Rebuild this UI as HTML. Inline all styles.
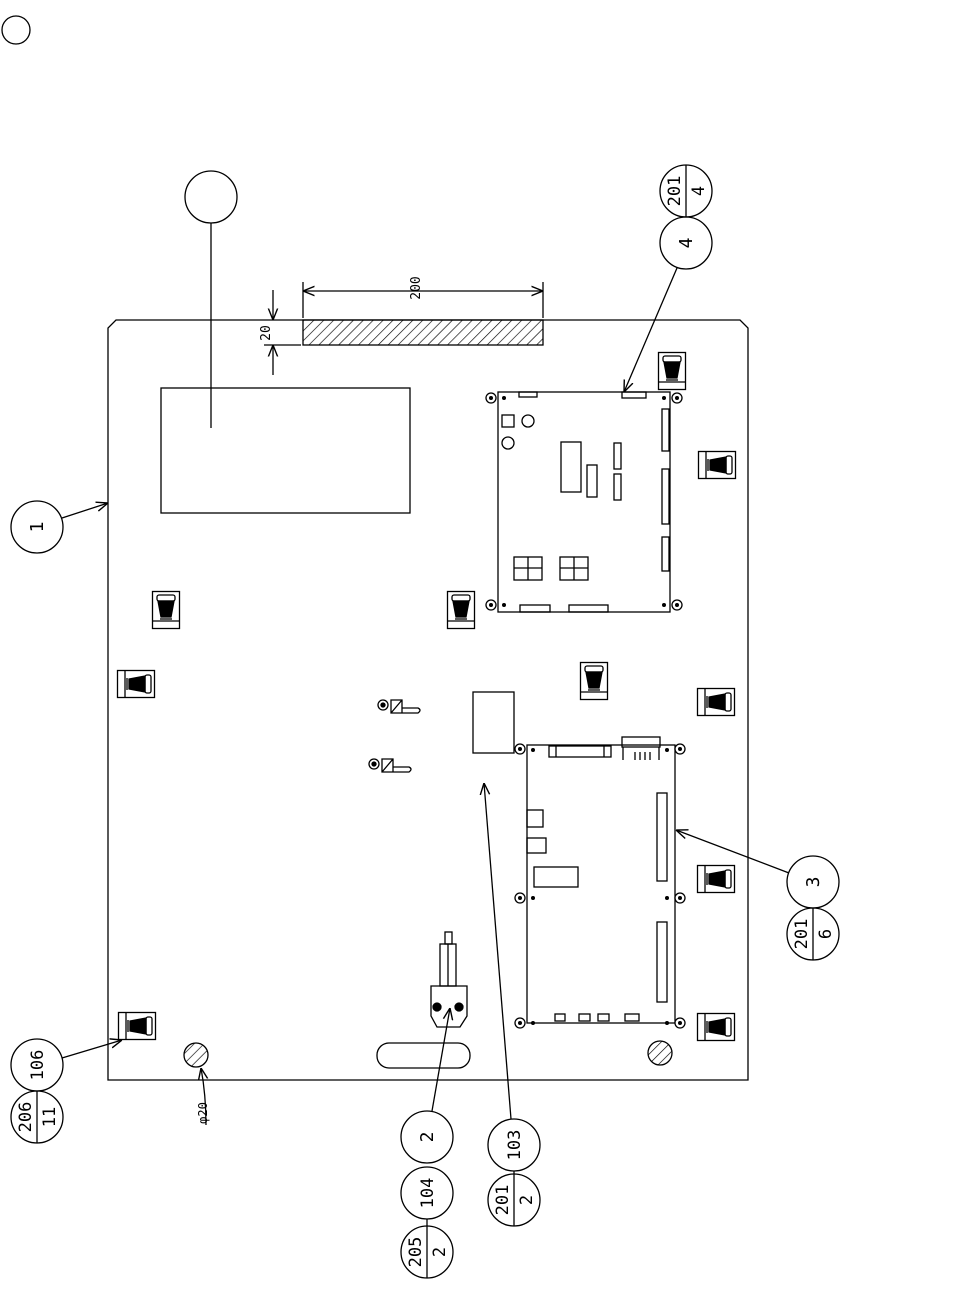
<!DOCTYPE html>
<html><head><meta charset="utf-8"><style>html,body{margin:0;padding:0;background:#fff}svg{display:block}text{font-family:"DejaVu Sans Mono","Liberation Mono",monospace;fill:#000}</style></head>
<body>
<svg width="967" height="1306" viewBox="0 0 967 1306" xmlns="http://www.w3.org/2000/svg" fill="none" stroke="#000" stroke-width="1.3">
<defs>
<pattern id="h" patternUnits="userSpaceOnUse" width="7" height="7" patternTransform="rotate(45)"><line x1="0" y1="0" x2="0" y2="7" stroke="#000" stroke-width="1.3"/></pattern>
<symbol id="cv" viewBox="0 0 28 38" overflow="visible"><rect x="0.5" y="0.5" width="27" height="37" fill="#fff"/><line x1="0.5" y1="30" x2="27.5" y2="30"/><rect x="5" y="4" width="18" height="6" rx="2"/><path d="M6 10 L22 10 L19 26 L9 26 Z" fill="#000"/><line x1="8" y1="28" x2="20" y2="28"/></symbol>
<symbol id="ch" viewBox="0 0 38 28" overflow="visible"><rect x="0.5" y="0.5" width="37" height="27" fill="#fff"/><line x1="8" y1="0.5" x2="8" y2="27.5"/><rect x="28" y="5" width="6" height="18" rx="2"/><path d="M28 6 L28 22 L12 19 L12 9 Z" fill="#000"/><line x1="10" y1="8" x2="10" y2="20"/></symbol>
<marker id="a" viewBox="0 0 10 10" refX="10" refY="5" markerWidth="9" markerHeight="9" orient="auto-start-reverse"><path d="M0 1 L10 5 L0 9" fill="none" stroke="#000" stroke-width="1.2"/></marker>
</defs>

<circle cx="16" cy="30" r="14"/>

<!-- plate -->
<path d="M108 1080 L108 328 L116 320 L740 320 L748 328 L748 1080 Z"/>
<rect x="303" y="320" width="240" height="25" fill="url(#h)"/>
<!-- dims -->
<line x1="303" y1="282" x2="303" y2="318"/><line x1="543" y1="282" x2="543" y2="318"/>
<line x1="303" y1="291" x2="543" y2="291" marker-start="url(#a)" marker-end="url(#a)"/>
<text x="0" y="0" transform="translate(420,288) rotate(-90)" font-size="13" stroke="none" text-anchor="middle">200</text>
<line x1="264" y1="345" x2="301" y2="345"/>
<line x1="273" y1="290" x2="273" y2="320" marker-end="url(#a)"/>
<line x1="273" y1="375" x2="273" y2="345" marker-end="url(#a)"/>
<text transform="translate(270,333) rotate(-90)" font-size="13" stroke="none" text-anchor="middle">20</text>

<!-- label area -->
<rect x="161" y="388" width="249" height="125"/>
<circle cx="211" cy="197" r="26"/>
<line x1="211" y1="223" x2="211" y2="428"/>

<!-- balloon 1 -->
<circle cx="37" cy="527" r="26"/><text transform="translate(43,527) rotate(-90)" font-size="18" stroke="none" text-anchor="middle">1</text>
<line x1="62" y1="518" x2="108" y2="503" marker-end="url(#a)"/>

<!-- balloon 4 -->
<circle cx="686" cy="191" r="26"/><line x1="686" y1="165" x2="686" y2="217"/>
<text transform="translate(680,191) rotate(-90)" font-size="17" stroke="none" text-anchor="middle">201</text>
<text transform="translate(704,191) rotate(-90)" font-size="17" stroke="none" text-anchor="middle">4</text>
<circle cx="686" cy="243" r="26"/><text transform="translate(692,243) rotate(-90)" font-size="18" stroke="none" text-anchor="middle">4</text>
<line x1="677" y1="268" x2="624" y2="392" marker-end="url(#a)"/>

<!-- board upper -->
<rect x="498" y="392" width="172" height="220"/>
<g fill="#fff"><circle cx="491" cy="398" r="5"/><circle cx="677" cy="398" r="5"/><circle cx="491" cy="605" r="5"/><circle cx="677" cy="605" r="5"/></g>
<g fill="#000" stroke="none"><circle cx="491" cy="398" r="2"/><circle cx="677" cy="398" r="2"/><circle cx="491" cy="605" r="2"/><circle cx="677" cy="605" r="2"/><circle cx="504" cy="398" r="2"/><circle cx="664" cy="398" r="2"/><circle cx="504" cy="605" r="2"/><circle cx="664" cy="605" r="2"/></g>
<rect x="519" y="392" width="18" height="5"/><rect x="622" y="392" width="24" height="6"/>
<rect x="502" y="415" width="12" height="12"/><circle cx="528" cy="421" r="6"/><circle cx="508" cy="443" r="6"/>
<rect x="561" y="442" width="20" height="50"/><rect x="587" y="465" width="10" height="32"/>
<rect x="614" y="443" width="7" height="26"/><rect x="614" y="474" width="7" height="26"/>
<rect x="662" y="409" width="7" height="42"/><rect x="662" y="469" width="7" height="55"/><rect x="662" y="537" width="7" height="34"/>
<rect x="514" y="557" width="28" height="23"/><line x1="528" y1="557" x2="528" y2="580"/><line x1="514" y1="568" x2="542" y2="568"/>
<rect x="560" y="557" width="28" height="23"/><line x1="574" y1="557" x2="574" y2="580"/><line x1="560" y1="568" x2="588" y2="568"/>
<rect x="520" y="605" width="30" height="7"/><rect x="569" y="605" width="39" height="7"/>

<!-- board lower -->
<rect x="527" y="745" width="148" height="278"/>
<g fill="#fff"><circle cx="520" cy="749" r="5"/><circle cx="680" cy="749" r="5"/><circle cx="520" cy="898" r="5"/><circle cx="680" cy="898" r="5"/><circle cx="520" cy="1023" r="5"/><circle cx="680" cy="1023" r="5"/></g>
<g fill="#000" stroke="none"><circle cx="520" cy="749" r="2"/><circle cx="680" cy="749" r="2"/><circle cx="520" cy="898" r="2"/><circle cx="680" cy="898" r="2"/><circle cx="520" cy="1023" r="2"/><circle cx="680" cy="1023" r="2"/><circle cx="533" cy="750" r="2"/><circle cx="667" cy="750" r="2"/><circle cx="533" cy="898" r="2"/><circle cx="667" cy="898" r="2"/><circle cx="533" cy="1023" r="2"/><circle cx="667" cy="1023" r="2"/></g>
<rect x="549" y="746" width="62" height="11"/><line x1="556" y1="746" x2="556" y2="757"/><line x1="604" y1="746" x2="604" y2="757"/>
<rect x="622" y="737" width="38" height="10"/><line x1="623" y1="747" x2="623" y2="760"/><line x1="659" y1="747" x2="659" y2="760"/><line x1="635" y1="752" x2="635" y2="760"/><line x1="640" y1="752" x2="640" y2="760"/><line x1="645" y1="752" x2="645" y2="760"/><line x1="650" y1="752" x2="650" y2="760"/>
<rect x="657" y="793" width="10" height="88"/><rect x="657" y="922" width="10" height="80"/>
<rect x="527" y="810" width="16" height="17"/><rect x="527" y="838" width="19" height="15"/><rect x="534" y="867" width="44" height="20"/>
<rect x="555" y="1014" width="10" height="7"/><rect x="579" y="1014" width="11" height="7"/><rect x="598" y="1014" width="11" height="7"/><rect x="625" y="1014" width="14" height="7"/>

<!-- balloon 3 -->
<circle cx="813" cy="882" r="26"/><text transform="translate(819,882) rotate(-90)" font-size="18" stroke="none" text-anchor="middle">3</text>
<circle cx="813" cy="934" r="26"/><line x1="813" y1="908" x2="813" y2="960"/>
<text transform="translate(807,934) rotate(-90)" font-size="17" stroke="none" text-anchor="middle">201</text>
<text transform="translate(831,934) rotate(-90)" font-size="17" stroke="none" text-anchor="middle">6</text>
<line x1="789" y1="873" x2="676" y2="830" marker-end="url(#a)"/>

<!-- clips -->
<use href="#cv" x="152" y="591" width="28" height="38"/>
<use href="#cv" x="447" y="591" width="28" height="38"/>
<use href="#cv" x="658" y="352" width="28" height="38"/>
<use href="#cv" x="580" y="662" width="28" height="38"/>
<use href="#ch" x="117" y="670" width="38" height="28"/>
<use href="#ch" x="698" y="451" width="38" height="28"/>
<use href="#ch" x="697" y="688" width="38" height="28"/>
<use href="#ch" x="697" y="865" width="38" height="28"/>
<use href="#ch" x="697" y="1013" width="38" height="28"/>
<use href="#ch" x="118" y="1012" width="38" height="28"/>

<!-- small parts -->
<rect x="473" y="692" width="41" height="61"/>
<circle cx="383" cy="705" r="5"/><circle cx="383" cy="705" r="2" fill="#000"/><path d="M391 700 L402 700 L402 713 L391 713 Z M391 713 L402 700 M402 708 L418 708 Q422 710 418 713 L402 713"/>
<circle cx="374" cy="764" r="5"/><circle cx="374" cy="764" r="2" fill="#000"/><path d="M382 759 L393 759 L393 772 L382 772 Z M382 772 L393 759 M393 767 L409 767 Q413 769 409 772 L393 772"/>

<!-- switch -->
<rect x="445" y="932" width="7" height="12"/><rect x="440" y="944" width="16" height="42"/><line x1="448" y1="944" x2="448" y2="986"/>
<path d="M431 986 L467 986 L467 1016 L460 1027 L437 1027 L431 1016 Z"/>
<circle cx="437" cy="1007" r="4" fill="#000"/><circle cx="459" cy="1007" r="4" fill="#000"/>
<rect x="377" y="1043" width="93" height="25" rx="12"/>

<!-- hatched circles -->
<circle cx="196" cy="1055" r="12" fill="url(#h)"/>
<circle cx="660" cy="1053" r="12" fill="url(#h)"/>
<path d="M201 1068 Q206 1095 206 1125" marker-start="url(#a)"/>
<text transform="translate(207,1113) rotate(-90)" font-size="12" stroke="none" text-anchor="middle">φ20</text>

<!-- 106 -->
<circle cx="37" cy="1065" r="26"/><text transform="translate(43,1065) rotate(-90)" font-size="17" stroke="none" text-anchor="middle">106</text>
<line x1="62" y1="1058" x2="122" y2="1040" marker-end="url(#a)"/>
<circle cx="37" cy="1117" r="26"/><line x1="37" y1="1091" x2="37" y2="1143"/>
<text transform="translate(31,1117) rotate(-90)" font-size="17" stroke="none" text-anchor="middle">206</text>
<text transform="translate(55,1117) rotate(-90)" font-size="17" stroke="none" text-anchor="middle">11</text>

<!-- 2 / 104 / 205 -->
<line x1="432" y1="1111" x2="450" y2="1008" marker-end="url(#a)"/>
<circle cx="427" cy="1137" r="26"/><text transform="translate(433,1137) rotate(-90)" font-size="18" stroke="none" text-anchor="middle">2</text>
<circle cx="427" cy="1193" r="26"/><text transform="translate(433,1193) rotate(-90)" font-size="17" stroke="none" text-anchor="middle">104</text>
<circle cx="427" cy="1252" r="26"/><line x1="427" y1="1219" x2="427" y2="1278"/>
<text transform="translate(421,1252) rotate(-90)" font-size="17" stroke="none" text-anchor="middle">205</text>
<text transform="translate(445,1252) rotate(-90)" font-size="17" stroke="none" text-anchor="middle">2</text>

<!-- 103 / 201/2 -->
<line x1="511" y1="1119" x2="484" y2="783" marker-end="url(#a)"/>
<circle cx="514" cy="1145" r="26"/><text transform="translate(520,1145) rotate(-90)" font-size="17" stroke="none" text-anchor="middle">103</text>
<circle cx="514" cy="1200" r="26"/><line x1="514" y1="1171" x2="514" y2="1226"/>
<text transform="translate(508,1200) rotate(-90)" font-size="17" stroke="none" text-anchor="middle">201</text>
<text transform="translate(532,1200) rotate(-90)" font-size="17" stroke="none" text-anchor="middle">2</text>
</svg>
</body></html>
